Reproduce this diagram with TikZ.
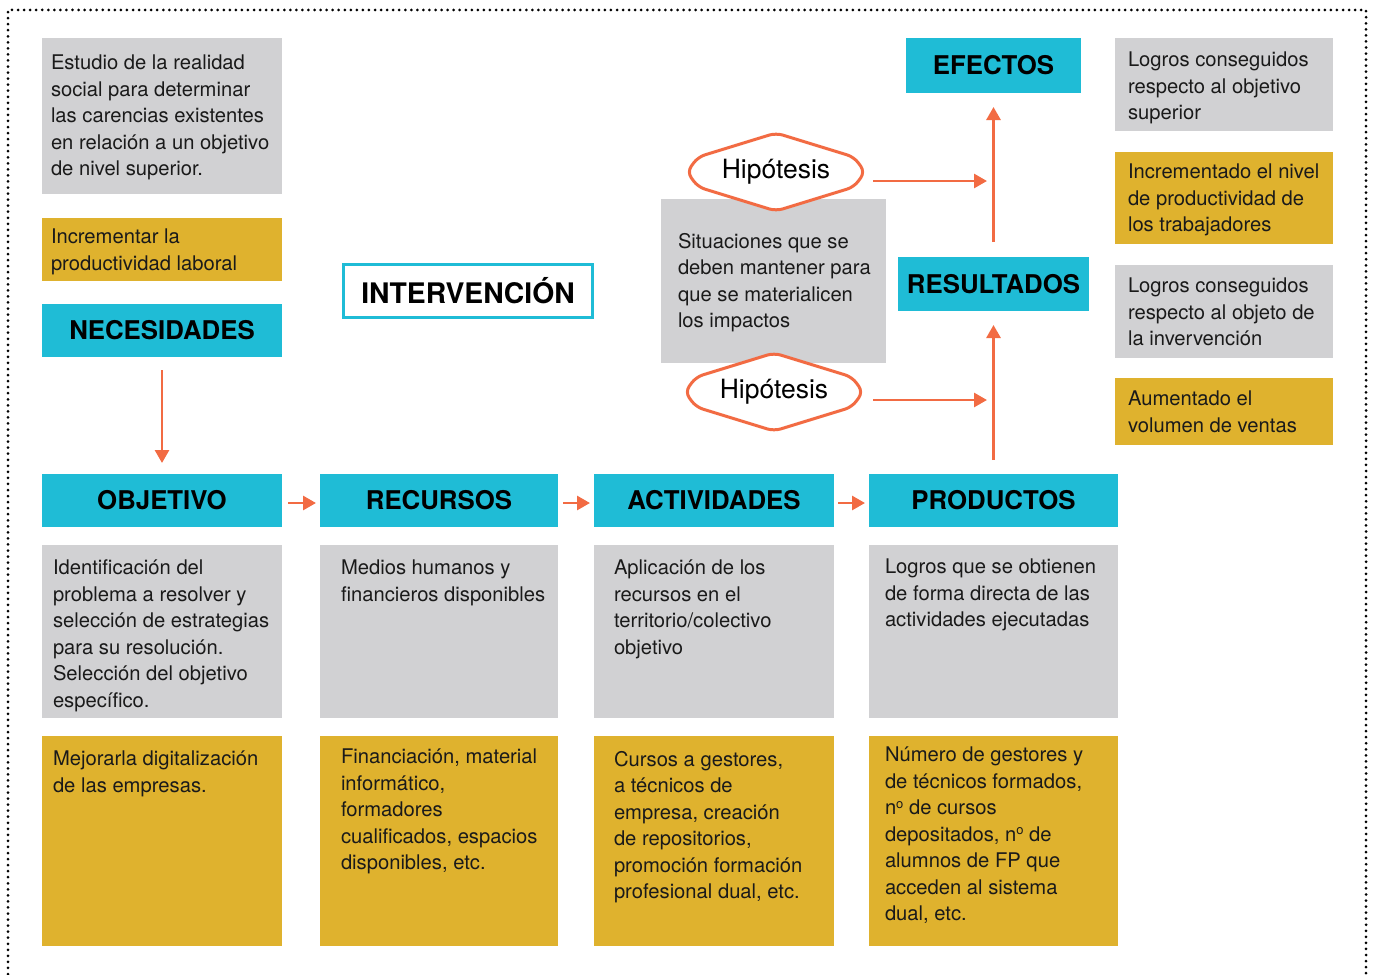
\documentclass[tikz,border=0pt]{standalone}
\usepackage{fontspec}
\setmainfont{TeX Gyre Heros}
\usetikzlibrary{calc,arrows.meta}
\definecolor{cy}{HTML}{1FBCD6}
\definecolor{gr}{HTML}{D1D1D3}
\definecolor{gd}{HTML}{DFB22E}
\definecolor{og}{HTML}{F26B43}
\definecolor{ink}{HTML}{1A1A1A}
\newcommand{\ordo}{\raisebox{6.5pt}{\fontsize{13}{13}\selectfont o}}
\tikzset{
  bx/.style={anchor=north west, inner sep=0pt, outer sep=0pt, draw=none},
  graybox/.style={bx, fill=gr},
  goldbox/.style={bx, fill=gd},
  headbox/.style={bx, fill=cy, text=black, font=\fontsize{25.8}{30}\selectfont\bfseries},
  txt/.style={anchor=north west, inner sep=0pt, outer sep=0pt, align=left, text=ink, font=\fontsize{20.2}{26.5}\selectfont},
  arr/.style={draw=og, line width=2.8pt, -{Triangle[length=13pt,width=14pt]}},
  hexa/.style={draw=og, line width=3pt, fill=white, rounded corners=7pt, line join=round},
  hiptext/.style={inner sep=0pt, minimum width=178pt, minimum height=78pt, text=black, font=\fontsize{26.5}{30}\selectfont},
}
\begin{document}
\begin{tikzpicture}[x=1pt, y=-1pt]
\useasboundingbox (0,0) rectangle (1375,974);
% dotted frame
\draw[line width=3pt, line cap=round, dash pattern=on 0pt off 6.05pt] (8,974) -- (8,10) -- (1366,10) -- (1366,974);

% left column top
\node[graybox, minimum width=240pt, minimum height=156pt] (estudio) at (42,38) {};
\node[txt] (estudioT) at (51,55) {Estudio de la realidad\\social para determinar\\las carencias existentes\\en relación a un objetivo\\de nivel superior.};
\node[goldbox, minimum width=240pt, minimum height=63pt] (incr) at (42,218) {};
\node[txt] (incrT) at (51,229) {Incrementar la\\productividad laboral};
\node[headbox, minimum width=240pt, minimum height=53pt] (nec) at (42,304) {NECESIDADES};

% intervencion
\node[draw=cy, line width=3pt, minimum width=249pt, minimum height=53pt, inner sep=0pt, text=black, font=\fontsize{28.3}{32}\selectfont\bfseries] (interv) at (468,291) {INTERVENCIÓN};

% headers row
\node[headbox, minimum width=240pt, minimum height=53pt] (obj) at (42,474) {OBJETIVO};
\node[headbox, minimum width=238pt, minimum height=53pt] (rec) at (320,474) {RECURSOS};
\node[headbox, minimum width=240pt, minimum height=53pt] (act) at (594,474) {ACTIVIDADES};
\node[headbox, minimum width=249pt, minimum height=53pt] (prod) at (869,474) {PRODUCTOS};

% gray row
\node[graybox, minimum width=240pt, minimum height=173pt] (objG) at (42,545) {};
\node[graybox, minimum width=238pt, minimum height=173pt] (recG) at (320,545) {};
\node[graybox, minimum width=240pt, minimum height=173pt] (actG) at (594,545) {};
\node[graybox, minimum width=249pt, minimum height=173pt] (prodG) at (869,545) {};
\node[txt] (objGT) at (53,560) {Identificación del\\problema a resolver y\\selección de estrategias\\para su resolución.\\Selección del objetivo\\específico.};
\node[txt] (recGT) at (341,560) {Medios humanos y\\financieros disponibles};
\node[txt] (actGT) at (614,560) {Aplicación de los\\recursos en el\\territorio/colectivo\\objetivo};
\node[txt] (prodGT) at (885,559) {Logros que se obtienen\\de forma directa de las\\actividades ejecutadas};

% gold row
\node[goldbox, minimum width=240pt, minimum height=210pt] (objY) at (42,736) {};
\node[goldbox, minimum width=238pt, minimum height=210pt] (recY) at (320,736) {};
\node[goldbox, minimum width=240pt, minimum height=210pt] (actY) at (594,736) {};
\node[goldbox, minimum width=249pt, minimum height=210pt] (prodY) at (869,736) {};
\node[txt] (objYT) at (53,751) {Mejorarla digitalización\\de las empresas.};
\node[txt] (recYT) at (341,749) {Financiación, material\\informático,\\formadores\\cualificados, espacios\\disponibles, etc.};
\node[txt] (actYT) at (614,751) {Cursos a gestores,\\a técnicos de\\empresa, creación\\de repositorios,\\promoción formación\\profesional dual, etc.};
\node[txt] (prodYT) at (885,747) {Número de gestores y\\de técnicos formados,\\n\ordo{} de cursos\\depositados, n\ordo{} de\\alumnos de FP que\\acceden al sistema\\dual, etc.};

% middle
\node[graybox, minimum width=225pt, minimum height=164pt] (sit) at (661,199) {};
\node[txt] (sitT) at (678,233) {Situaciones que se\\deben mantener para\\que se materialicen\\los impactos};
\draw[hexa, shift={(776,172)}] (-89,0) -- (-78,-15) -- (0,-39) -- (78,-15) -- (89,0) -- (78,15) -- (0,39) -- (-78,15) -- cycle;
\node[hiptext] (hipA) at (776,172) {Hipótesis};
\draw[hexa, shift={(774,392)}] (-89,0) -- (-78,-15) -- (0,-39) -- (78,-15) -- (89,0) -- (78,15) -- (0,39) -- (-78,15) -- cycle;
\node[hiptext] (hipB) at (774,392) {Hipótesis};

% right
\node[headbox, minimum width=175pt, minimum height=55pt] (ef) at (906,38) {EFECTOS};
\node[headbox, minimum width=191pt, minimum height=54pt] (res) at (898,257) {RESULTADOS};
\node[graybox, minimum width=218pt, minimum height=93pt] (r1) at (1115,38) {};
\node[txt] (r1T) at (1128,52) {Logros conseguidos\\respecto al objetivo\\superior};
\node[goldbox, minimum width=218pt, minimum height=92pt] (r2) at (1115,152) {};
\node[txt] (r2T) at (1128,164) {Incrementado el nivel\\de productividad de\\los trabajadores};
\node[graybox, minimum width=218pt, minimum height=93pt] (r3) at (1115,265) {};
\node[txt] (r3T) at (1128,278) {Logros conseguidos\\respecto al objeto de\\la invervención};
\node[goldbox, minimum width=218pt, minimum height=67pt] (r4) at (1115,378) {};
\node[txt] (r4T) at (1128,391) {Aumentado el\\volumen de ventas};

% connectors
\draw[arr] ($(nec.south)+(0,13)$) -- ($(obj.north)+(0,-11)$);
\draw[arr] ($(obj.east)+(6,2.5)$) -- ($(rec.west)+(-4,2.5)$);
\draw[arr] ($(rec.east)+(5,2.5)$) -- ($(act.west)+(-4,2.5)$);
\draw[arr] ($(act.east)+(4,2.5)$) -- ($(prod.west)+(-4,2.5)$);
\draw[arr] ($(prod.north)+(0,-14)$) -- ($(res.south)+(0,14)$);
\draw[arr] ($(res.north)+(0,-15)$) -- ($(ef.south)+(0,14)$);
\coordinate (vA) at (987,181);
\coordinate (vB) at (987,400);
\draw[arr] ($(hipA.east)+(8,9)$) -- (vA);
\draw[arr] ($(hipB.east)+(10,8)$) -- (vB);
\end{tikzpicture}
\end{document}
